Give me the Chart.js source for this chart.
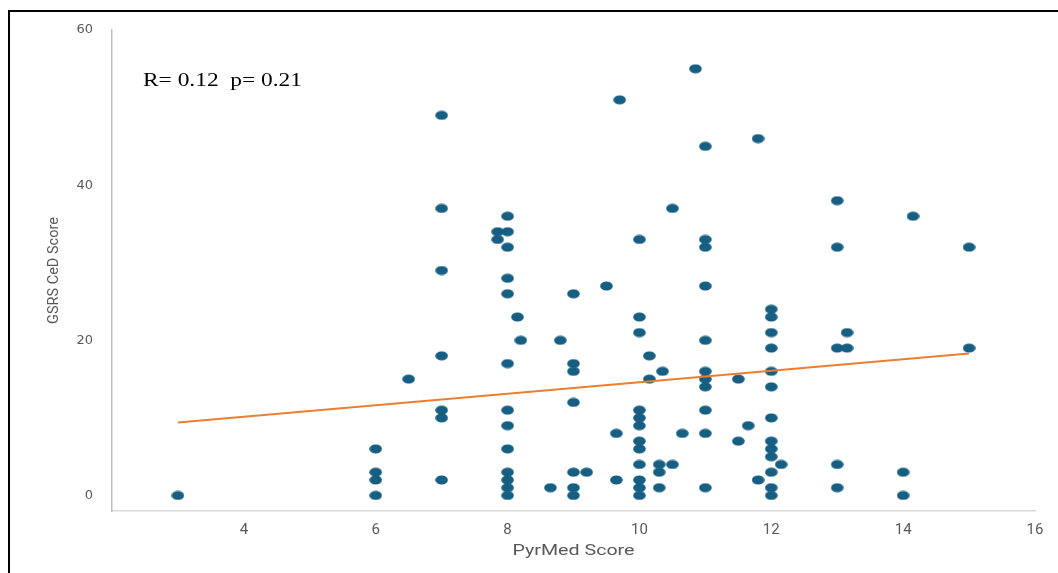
<!DOCTYPE html>
<html>
<head>
<meta charset="utf-8">
<script src="https://cdn.jsdelivr.net/npm/chart.js@4.4.1/dist/chart.umd.min.js"></script>
<style>
    html, body { margin: 0; padding: 0; background: #fff; }
    #wrap { position: relative; width: 1058px; height: 573px; overflow: hidden; }
    #frame { position: absolute; left: 8px; top: 10px; width: 1100px; height: 600px; border-top: 2px solid #000; border-left: 2px solid #000; pointer-events: none; }
    #stats { position: absolute; left: 143px; top: 70px; font: 18px/20px 'Liberation Serif', 'DejaVu Serif', serif; color: #000; white-space: pre; transform: scaleX(1.3); transform-origin: 0 0; }
</style>
</head>
<body>
<div id="wrap">
    <canvas id="chart" width="1058" height="573"></canvas>
    <div id="frame"></div>
    <div id="stats">R= 0.12  p= 0.21</div>
</div>
<script>
// PyrMed score (x) and GSRS CeD score (y)
const pyrMed = [
    3,
    6, 6, 6, 6,
    6.5,
    7, 7, 7, 7, 7, 7, 7,
    7.85, 7.85,
    8, 8, 8, 8, 8, 8, 8, 8, 8, 8, 8, 8, 8,
    8.15, 8.2, 8.65, 8.8,
    9, 9, 9, 9, 9, 9, 9,
    9.2, 9.5, 9.65, 9.65, 9.7,
    10, 10, 10, 10, 10, 10, 10, 10, 10, 10, 10, 10,
    10.15, 10.15, 10.35, 10.3, 10.3, 10.3, 10.5, 10.5, 10.65, 10.85,
    11, 11, 11, 11, 11, 11, 11, 11, 11, 11, 11,
    11.5, 11.65, 11.5, 11.8, 11.8,
    12, 12, 12, 12, 12, 12, 12, 12, 12, 12, 12, 12, 12,
    12.15,
    13, 13, 13, 13, 13,
    13.15, 13.15,
    14.15, 14, 14,
    15, 15
];
const gsrsCeD = [
    0,
    6, 3, 2, 0,
    15,
    49, 37, 29, 18, 11, 10, 2,
    34, 33,
    36, 34, 32, 28, 26, 17, 11, 9, 6, 3, 2, 1, 0,
    23, 20, 1, 20,
    26, 17, 16, 12, 3, 1, 0,
    3, 27, 8, 2, 51,
    33, 23, 21, 11, 10, 9, 7, 6, 4, 2, 1, 0,
    18, 15, 16, 4, 3, 1, 4, 37, 8, 55,
    45, 33, 32, 27, 20, 16, 15, 14, 11, 8, 1,
    15, 9, 7, 2, 46,
    24, 23, 21, 19, 16, 14, 10, 7, 6, 5, 3, 1, 0,
    4,
    38, 32, 19, 4, 1,
    21, 19,
    36, 3, 0,
    32, 19
];

// linear trendline end points
const trendX = [3, 15];
const trendY = [9.4, 18.3];

const xTicks = [4, 6, 8, 10, 12, 14, 16];
const yTicks = [0, 20, 40, 60];

function ellipseMarker() {
    const c = document.createElement('canvas');
    c.width = 13;
    c.height = 10;
    const g = c.getContext('2d');
    g.fillStyle = '#165f82';
    g.beginPath();
    g.ellipse(6.5, 5, 6.3, 4.6, 0, 0, Math.PI * 2);
    g.fill();
    return c;
}

// x axis title, drawn a little wider than the font to match the picture
const xTitlePlugin = {
    id: 'xTitle',
    afterDraw(chart) {
        const { ctx, chartArea } = chart;
        const text = 'PyrMed Score';
        ctx.save();
        ctx.fillStyle = '#595959';
        ctx.font = '15px Roboto, sans-serif';
        ctx.textAlign = 'center';
        ctx.textBaseline = 'middle';
        const sx = 122 / ctx.measureText(text).width;
        ctx.translate((chartArea.left + chartArea.right) / 2, 551);
        ctx.scale(sx, 1);
        ctx.fillText(text, 0, 0);
        ctx.restore();
    }
};

const points = pyrMed.map((x, i) => ({ x, y: gsrsCeD[i] }));
const trend = trendX.map((x, i) => ({ x, y: trendY[i] }));

new Chart(document.getElementById('chart'), {
    type: 'scatter',
    data: {
        datasets: [
            {
                label: 'GSRS CeD',
                data: points,
                pointStyle: ellipseMarker(),
                pointRadius: 6,
                order: 1
            },
            {
                type: 'line',
                label: 'Trend',
                data: trend,
                borderColor: '#ed7d31',
                borderWidth: 2,
                pointRadius: 0,
                fill: false,
                order: 0
            }
        ]
    },
    options: {
        responsive: false,
        animation: false,
        layout: { padding: { top: 30, right: 23, left: 0, bottom: 0 } },
        plugins: { legend: { display: false }, tooltip: { enabled: false } },
        scales: {
            x: {
                type: 'linear',
                min: 2,
                max: 16,
                afterBuildTicks: axis => { axis.ticks = xTicks.map(v => ({ value: v })); },
                afterFit: scale => { scale.height = 62; },
                grid: { display: false, drawTicks: false },
                border: { display: true, color: '#d9d9d9', width: 1.5 },
                ticks: { color: '#595959', font: { family: 'Roboto, sans-serif', size: 15 }, padding: 10, maxRotation: 0 }
            },
            y: {
                type: 'linear',
                min: -2,
                max: 60,
                afterBuildTicks: axis => { axis.ticks = yTicks.map(v => ({ value: v })); },
                afterFit: scale => { scale.width = 112; },
                grid: { display: false, drawTicks: false },
                border: { display: true, color: '#bfbfbf', width: 1.5 },
                ticks: { color: '#595959', font: { family: "'DejaVu Sans', sans-serif", size: 13 }, padding: 19 },
                title: {
                    display: true,
                    text: 'GSRS CeD Score',
                    color: '#595959',
                    font: { family: 'Roboto, sans-serif', size: 14.5 },
                    padding: { top: 46, bottom: 0 }
                }
            }
        }
    },
    plugins: [xTitlePlugin]
});
</script>
</body>
</html>
